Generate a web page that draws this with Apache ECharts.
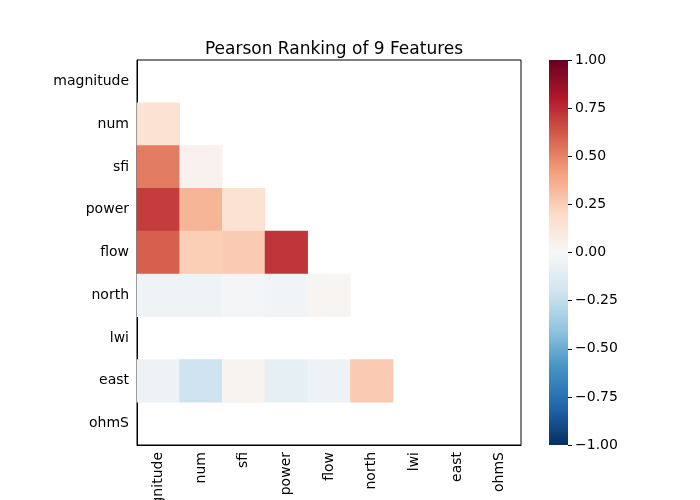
<!DOCTYPE html>
<html>
<head>
<meta charset="utf-8">
<script src="https://cdn.jsdelivr.net/npm/echarts@6/dist/echarts.min.js"></script>
<style>
  html, body { margin: 0; padding: 0; background: #fff; }
  #chart { width: 700px; height: 500px; }
</style>
</head>
<body>
<div id="chart"></div>
<script>
var features = ['magnitude', 'num', 'sfi', 'power', 'flow', 'north', 'lwi', 'east', 'ohmS']

// lower triangle of the correlation matrix, row by row (null = no value)
var rowMagnitude = []
var rowNum = [0.15]
var rowSfi = [0.52, 0.04]
var rowPower = [0.70, 0.34, 0.15]
var rowFlow = [0.60, 0.25, 0.26, 0.72]
var rowNorth = [-0.05, -0.05, -0.02, -0.03, 0.02]
var rowLwi = [null, null, null, null, null, null]
var rowEast = [-0.06, -0.21, 0.03, -0.09, -0.06, 0.26, null]
var rowOhmS = [null, null, null, null, null, null, null, null]

var rows = [rowMagnitude, rowNum, rowSfi, rowPower, rowFlow, rowNorth, rowLwi, rowEast, rowOhmS]

// RdBu_r
var rdbu = ['#053061', '#2166ac', '#4393c3', '#92c5de', '#d1e5f0', '#f7f7f7',
            '#fddbc7', '#f4a582', '#d6604d', '#b2182b', '#67001f']

var cells = []
for (var r = 0; r < rows.length; r++) {
    for (var c = 0; c < rows[r].length; c++) {
        if (rows[r][c] !== null) cells.push([c, r, rows[r][c]])
    }
}

// colorbar gradient, top = +1
var stops = []
for (var i = 0; i < rdbu.length; i++) {
    stops.push({ offset: i / (rdbu.length - 1), color: rdbu[rdbu.length - 1 - i] })
}

var font = 'DejaVu Sans'
var myChart = echarts.init(document.getElementById('chart'))

var option = {
    animation: false,
    backgroundColor: '#fff',
    title: {
        text: 'Pearson Ranking of 9 Features',
        left: 329, top: 36, textAlign: 'center',
        textStyle: { fontFamily: font, fontSize: 17, fontWeight: 'normal', color: '#000' }
    },
    grid: [
        { left: 137, top: 60, width: 384, height: 385, show: true, borderColor: '#000', borderWidth: 1,
          backgroundColor: '#fff', containLabel: false, outerBoundsMode: 'none' },
        { left: 549, top: 60, width: 19, height: 385, show: true, borderWidth: 0,
          backgroundColor: new echarts.graphic.LinearGradient(0, 0, 0, 1, stops),
          containLabel: false, outerBoundsMode: 'none' }
    ],
    xAxis: [
        {
            type: 'category', data: features, gridIndex: 0,
            axisLine: { lineStyle: { color: '#000' } },
            axisTick: { alignWithLabel: true, length: 4, lineStyle: { color: '#000' } },
            axisLabel: { rotate: 90, fontFamily: font, fontSize: 14, color: '#000', margin: 7, interval: 0 },
            splitLine: { show: false }
        },
        { type: 'value', gridIndex: 1, show: false, min: 0, max: 1,
          axisLine: { show: false }, axisTick: { show: false }, axisLabel: { show: false }, splitLine: { show: false } }
    ],
    yAxis: [
        {
            type: 'category', data: features, inverse: true, gridIndex: 0,
            axisLine: { lineStyle: { color: '#000' } },
            axisTick: { alignWithLabel: true, length: 4, lineStyle: { color: '#000' } },
            axisLabel: { fontFamily: font, fontSize: 14, color: '#000', margin: 8, interval: 0,
                         padding: [3, 0, 0, 0] },
            splitLine: { show: false }
        },
        {
            type: 'value', gridIndex: 1, position: 'right', min: -1, max: 1, interval: 0.25,
            axisLine: { show: false, onZero: false },
            axisTick: { show: true, inside: false, length: 4, lineStyle: { color: '#000' } },
            axisLabel: {
                fontFamily: font, fontSize: 14, color: '#000', margin: 7,
                formatter: function (v) { return v.toFixed(2).replace('-', '\u2212') }
            },
            splitLine: { show: false }
        }
    ],
    visualMap: {
        type: 'continuous', min: -1, max: 1, seriesIndex: 0, show: false,
        inRange: { color: rdbu }
    },
    series: [
        {
            type: 'heatmap', xAxisIndex: 0, yAxisIndex: 0,
            data: cells,
            itemStyle: { borderWidth: 0 },
            emphasis: { disabled: true }
        }
    ]
}

myChart.setOption(option)
</script>
</body>
</html>
